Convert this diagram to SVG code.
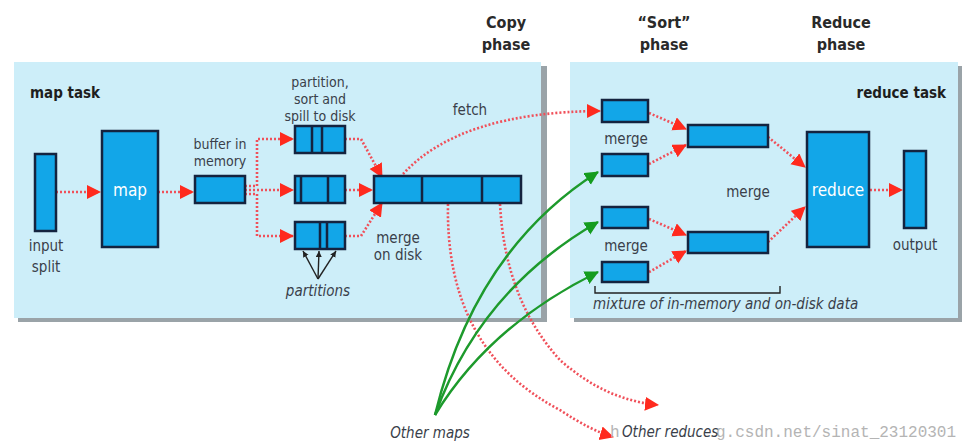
<svg xmlns="http://www.w3.org/2000/svg" width="972" height="448" viewBox="0 0 972 448">
<style>
text{font-family:"Liberation Sans Narrow","DejaVu Sans Condensed","Liberation Sans",sans-serif;fill:#3a3f4a;font-size:15px}
.s{font-size:14px}
.b{font-weight:bold;fill:#1e1e1e}
.ph{font-weight:bold;fill:#2a2a2a;font-size:16px}
.i{font-style:italic}
.w{fill:#ffffff;font-size:17px}
.box{fill:#12a6e8;stroke:#14233f;stroke-width:2.5}
.div{stroke:#14233f;stroke-width:2.5}
.panel{fill:#cdeef9}
.shadow{fill:#9aa3a8}
.red{fill:none;stroke:#f0505a;stroke-width:2.6;stroke-dasharray:2 2}
.grn{fill:none;stroke:#1d9a2c;stroke-width:2.5}
.blk{fill:none;stroke:#222;stroke-width:1.4}
.wm{font-family:"Liberation Mono","DejaVu Sans Mono",monospace;fill:#b4b4b4;font-size:16px}
</style>
<defs>
<marker id="ar" markerUnits="userSpaceOnUse" markerWidth="16" markerHeight="16" refX="13" refY="7" orient="auto"><path d="M0,0 L14,7 L0,14 Z" fill="#ff2a1e"/></marker>
<marker id="ag" markerUnits="userSpaceOnUse" markerWidth="16" markerHeight="16" refX="13" refY="7" orient="auto"><path d="M0,0 L14,7 L0,14 Z" fill="#149c1e"/></marker>
<marker id="ak" markerUnits="userSpaceOnUse" markerWidth="8" markerHeight="8" refX="6" refY="3" orient="auto"><path d="M0,0 L6,3 L0,6 Z" fill="#222"/></marker>
</defs>

<g id="phase-labels">
<text class="ph" x="506" y="28" text-anchor="middle">Copy</text>
<text class="ph" x="506" y="50" text-anchor="middle">phase</text>
<text class="ph" x="664" y="28" text-anchor="middle">“Sort”</text>
<text class="ph" x="664" y="50" text-anchor="middle">phase</text>
<text class="ph" x="841" y="28" text-anchor="middle">Reduce</text>
<text class="ph" x="841" y="50" text-anchor="middle">phase</text>
</g>

<g id="map-task">
<rect class="shadow" x="18" y="66" width="529" height="256"/>
<rect class="panel" x="14" y="62" width="527" height="256"/>
<text class="b" x="30" y="98" font-size="18">map task</text>
</g>
<g id="reduce-task">
<rect class="shadow" x="574" y="66" width="388" height="256"/>
<rect class="panel" x="570" y="62" width="388" height="256"/>
<text class="b" x="946" y="98" font-size="18" text-anchor="end">reduce task</text>
</g>

<g id="connectors">
<path class="red" d="M56,192 H100" marker-end="url(#ar)"/>
<path class="red" d="M158,192 H193" marker-end="url(#ar)"/>
<path class="red" d="M245,186 H257 V139 H293" marker-end="url(#ar)"/>
<path class="red" d="M245,190 H293" marker-end="url(#ar)"/>
<path class="red" d="M245,194 H257 V236 H293" marker-end="url(#ar)"/>
<path class="red" d="M345,139 H361 L382,177" marker-end="url(#ar)"/>
<path class="red" d="M345,190 H372" marker-end="url(#ar)"/>
<path class="red" d="M345,236 H361 L382,203" marker-end="url(#ar)"/>
<path class="red" d="M403,174 Q460,112 600,111" marker-end="url(#ar)"/>
<path class="red" d="M448,204 Q445,350 560,410 Q590,430 613,437" marker-end="url(#ar)"/>
<path class="red" d="M500,204 Q505,300 560,360 Q605,400 658,405" marker-end="url(#ar)"/>
<path class="grn" d="M435,415 Q475,250 598,172" marker-end="url(#ag)"/>
<path class="grn" d="M435,415 Q480,290 598,222" marker-end="url(#ag)"/>
<path class="grn" d="M435,415 Q490,325 598,272" marker-end="url(#ag)"/>
<path class="red" d="M649,113 L686,129" marker-end="url(#ar)"/>
<path class="red" d="M649,164 L686,145" marker-end="url(#ar)"/>
<path class="red" d="M649,219 L686,235" marker-end="url(#ar)"/>
<path class="red" d="M649,272 L686,251" marker-end="url(#ar)"/>
<path class="red" d="M768,137 L805,167" marker-end="url(#ar)"/>
<path class="red" d="M768,242 L805,207" marker-end="url(#ar)"/>
<path class="red" d="M870,190 H902" marker-end="url(#ar)"/>
<path class="blk" d="M318,279 L303,251" marker-end="url(#ak)"/>
<path class="blk" d="M318,279 L319,251" marker-end="url(#ak)"/>
<path class="blk" d="M318,279 L336,251" marker-end="url(#ak)"/>
<path class="blk" d="M595,286 V293 H780 V286"/>
</g>

<g id="input-split">
<rect class="box" x="35" y="154" width="21" height="77"/>
<text x="46" y="251" text-anchor="middle" font-size="17">input</text>
<text x="46" y="272" text-anchor="middle" font-size="17">split</text>
</g>
<g id="map">
<rect class="box" x="102" y="131" width="56" height="116"/>
<text class="w" x="130" y="196" text-anchor="middle">map</text>
</g>
<g id="buffer">
<rect class="box" x="195" y="176" width="50" height="27"/>
<text class="s" x="220" y="149" text-anchor="middle">buffer in</text>
<text class="s" x="220" y="166" text-anchor="middle">memory</text>
</g>
<g id="spill-label">
<text class="s" x="320" y="87" text-anchor="middle">partition,</text>
<text class="s" x="320" y="104" text-anchor="middle">sort and</text>
<text class="s" x="320" y="121" text-anchor="middle">spill to disk</text>
</g>
<g id="spill1">
<rect class="box" x="295" y="126" width="50" height="27"/>
<path class="div" d="M312,126 V153 M322,126 V153"/>
</g>
<g id="spill2">
<rect class="box" x="295" y="176" width="50" height="27"/>
<path class="div" d="M301,176 V203 M328,176 V203"/>
</g>
<g id="spill3">
<rect class="box" x="295" y="222" width="50" height="27"/>
<path class="div" d="M320,222 V249 M327,222 V249"/>
</g>
<g id="partitions">
<text class="i" x="318" y="296" text-anchor="middle">partitions</text>
</g>
<g id="merged">
<rect class="box" x="374" y="176" width="147" height="27"/>
<path class="div" d="M422,176 V203 M482,176 V203"/>
<text x="398" y="243" text-anchor="middle">merge</text>
<text x="398" y="260" text-anchor="middle">on disk</text>
</g>
<g id="fetch">
<text x="470" y="115" text-anchor="middle">fetch</text>
</g>

<g id="r-box1"><rect class="box" x="602" y="100" width="46" height="22"/></g>
<g id="r-box2"><rect class="box" x="602" y="154" width="46" height="22"/></g>
<g id="r-box3"><rect class="box" x="602" y="207" width="46" height="21"/></g>
<g id="r-box4"><rect class="box" x="602" y="262" width="46" height="20"/></g>
<g id="merge-labels">
<text x="626" y="144" text-anchor="middle">merge</text>
<text x="626" y="251" text-anchor="middle">merge</text>
<text x="748" y="197" text-anchor="middle">merge</text>
</g>
<g id="mid1"><rect class="box" x="688" y="125" width="80" height="22"/></g>
<g id="mid2"><rect class="box" x="688" y="232" width="80" height="21"/></g>
<g id="reduce">
<rect class="box" x="807" y="132" width="62" height="115"/>
<text class="w" x="838" y="196" text-anchor="middle">reduce</text>
</g>
<g id="output">
<rect class="box" x="904" y="151" width="22" height="77"/>
<text x="915" y="250" text-anchor="middle" font-size="17">output</text>
</g>
<g id="mixture">
<text class="i" x="593" y="309" font-size="14">mixture of in-memory and on-disk data</text>
</g>

<g id="other">
<text class="wm" x="610" y="437">h</text>
<text class="wm" x="716" y="437">g.csdn.net/sinat_23120301</text>
<text class="i" x="430" y="438" text-anchor="middle">Other maps</text>
<text class="i" x="622" y="437">Other reduces</text>
</g>
</svg>
